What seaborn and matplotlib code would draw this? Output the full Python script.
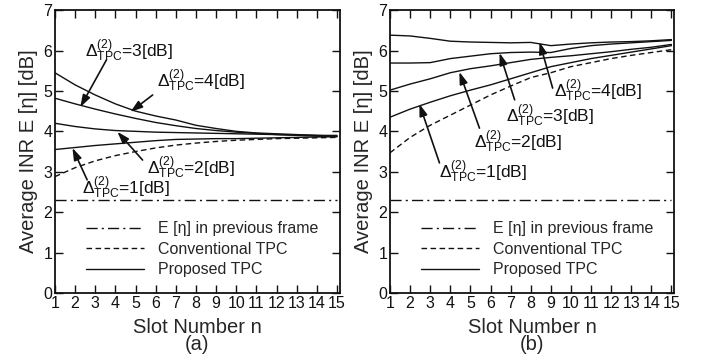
import numpy as np
import pandas as pd
import matplotlib
matplotlib.use("Agg")
import matplotlib.pyplot as plt
import seaborn as sns

# ---------------- datos ----------------
slots = [1, 2, 3, 4, 5, 6, 7, 8, 9, 10, 11, 12, 13, 14, 15]

# panel (a)
prev_a = [2.3, 2.3, 2.3, 2.3, 2.3, 2.3, 2.3, 2.3, 2.3, 2.3, 2.3, 2.3, 2.3, 2.3, 2.3]
conv_a = [2.88, 3.1, 3.27, 3.4, 3.5, 3.59, 3.66, 3.71, 3.75, 3.78, 3.8, 3.82, 3.83, 3.84, 3.85]
prop_a_1 = [3.55, 3.6, 3.65, 3.69, 3.73, 3.77, 3.8, 3.81, 3.82, 3.82, 3.83, 3.84, 3.85, 3.86, 3.87]
prop_a_2 = [4.2, 4.12, 4.06, 4.02, 4.0, 3.98, 3.97, 3.96, 3.95, 3.94, 3.93, 3.92, 3.91, 3.9, 3.9]
prop_a_3 = [4.82, 4.68, 4.55, 4.43, 4.32, 4.22, 4.14, 4.07, 4.02, 3.98, 3.95, 3.92, 3.9, 3.88, 3.87]
prop_a_4 = [5.45, 5.15, 4.9, 4.68, 4.5, 4.38, 4.28, 4.15, 4.07, 4.0, 3.96, 3.94, 3.92, 3.9, 3.88]

# panel (b)
prev_b = [2.3, 2.3, 2.3, 2.3, 2.3, 2.3, 2.3, 2.3, 2.3, 2.3, 2.3, 2.3, 2.3, 2.3, 2.3]
conv_b = [3.47, 3.85, 4.15, 4.4, 4.65, 4.9, 5.12, 5.33, 5.45, 5.6, 5.7, 5.8, 5.88, 5.95, 6.02]
prop_b_1 = [4.35, 4.55, 4.72, 4.88, 5.02, 5.15, 5.3, 5.45, 5.6, 5.7, 5.8, 5.88, 5.96, 6.04, 6.12]
prop_b_2 = [5.02, 5.17, 5.3, 5.45, 5.55, 5.62, 5.7, 5.78, 5.83, 5.87, 5.92, 5.97, 6.03, 6.08, 6.15]
prop_b_3 = [5.69, 5.69, 5.7, 5.8, 5.86, 5.92, 5.95, 5.96, 5.95, 6.05, 6.12, 6.16, 6.19, 6.22, 6.25]
prop_b_4 = [6.38, 6.36, 6.3, 6.23, 6.21, 6.2, 6.19, 6.2, 6.12, 6.16, 6.19, 6.21, 6.22, 6.24, 6.27]

delta_labels = ["1", "2", "3", "4"]

# anotaciones: (texto x, texto y, cola x, cola y, punta x, punta y)
notes_a = [
    (2.36, 2.46, 2.6, 2.8, 1.87, 3.59),
    (5.55, 2.94, 5.35, 3.29, 4.1, 3.99),
    (2.51, 5.84, 3.56, 5.77, 2.26, 4.6),
    (6.05, 5.1, 5.85, 4.9, 4.75, 4.48),
]
notes_b = [
    (3.46, 2.85, 3.46, 3.22, 2.46, 4.68),
    (5.2, 3.59, 5.45, 4.08, 4.45, 5.47),
    (6.75, 4.23, 7.2, 4.78, 6.45, 5.94),
    (9.14, 4.85, 9.09, 5.07, 8.44, 6.21),
]

# ---------------- estilo ----------------
sns.set_theme(style="ticks")
plt.rcParams["font.family"] = ["Liberation Sans", "DejaVu Sans"]
plt.rcParams["mathtext.fontset"] = "custom"
plt.rcParams["mathtext.rm"] = "Liberation Sans"
plt.rcParams["mathtext.it"] = "Liberation Sans:italic"
plt.rcParams["xtick.direction"] = "in"
plt.rcParams["ytick.direction"] = "in"
plt.rcParams["xtick.top"] = True
plt.rcParams["ytick.right"] = True

ink = "#111111"


def build_df(prev, conv, props):
    rows = []
    for s, v in zip(slots, prev):
        rows.append((s, v, "prev"))
    for s, v in zip(slots, conv):
        rows.append((s, v, "conv"))
    for k, serie in enumerate(props):
        for s, v in zip(slots, serie):
            rows.append((s, v, f"prop{k + 1}"))
    return pd.DataFrame(rows, columns=["slot", "inr", "curve"])


def draw_panel(ax, df, notes, tag):
    sns.lineplot(data=df[df.curve == "prev"], x="slot", y="inr", ax=ax, color=ink, lw=1.0,
                 linestyle=(0, (8, 3, 1.5, 3)), label="E [η] in previous frame")
    sns.lineplot(data=df[df.curve == "conv"], x="slot", y="inr", ax=ax, color=ink, lw=1.0,
                 linestyle=(0, (4, 2.5)), label="Conventional TPC")
    for k in range(4):
        sns.lineplot(data=df[df.curve == f"prop{k + 1}"], x="slot", y="inr", ax=ax, color=ink,
                     lw=1.0, label="Proposed TPC" if k == 0 else "_nolegend_")

    for (tx, ty, ax0, ay0, px, py), d in zip(notes, delta_labels):
        ax.text(tx, ty, r"$\Delta^{(2)}_{\mathrm{TPC}}$=" + d + "[dB]", fontsize=12.5,
                ha="left", va="baseline", color=ink)
        ax.annotate("", xy=(px, py), xytext=(ax0, ay0),
                    arrowprops=dict(arrowstyle="-|>,head_length=0.6,head_width=0.2",
                                    color=ink, lw=1.2, shrinkA=0, shrinkB=0))

    ax.set_xlim(1, 15.15)
    ax.set_ylim(0, 7)
    ax.set_xticks(slots)
    ax.set_yticks(range(0, 8))
    ax.tick_params(labelsize=11.5, length=6, width=1, colors=ink, pad=2)
    for sp in ax.spines.values():
        sp.set_linewidth(1.3)
        sp.set_color(ink)
    ax.set_xlabel("Slot Number n\n" + tag, fontsize=14.5, linespacing=0.9, labelpad=5)
    ax.set_ylabel("Average INR E [η] [dB]", fontsize=14.5, labelpad=4)

    ax.legend(loc="lower left", bbox_to_anchor=(0.11, 0.055), frameon=False, fontsize=11.5,
              handlelength=3.6, handletextpad=0.9, labelspacing=0.35, borderpad=0,
              borderaxespad=0)


fig = plt.figure(figsize=(7.04, 3.6), dpi=100)
ax_a = fig.add_axes([0.078, 0.186, 0.405, 0.786])
ax_b = fig.add_axes([0.554, 0.186, 0.404, 0.786])

df_a = build_df(prev_a, conv_a, [prop_a_1, prop_a_2, prop_a_3, prop_a_4])
df_b = build_df(prev_b, conv_b, [prop_b_1, prop_b_2, prop_b_3, prop_b_4])

draw_panel(ax_a, df_a, notes_a, "(a)")
draw_panel(ax_b, df_b, notes_b, "(b)")

fig.savefig("out.png", dpi=100)
